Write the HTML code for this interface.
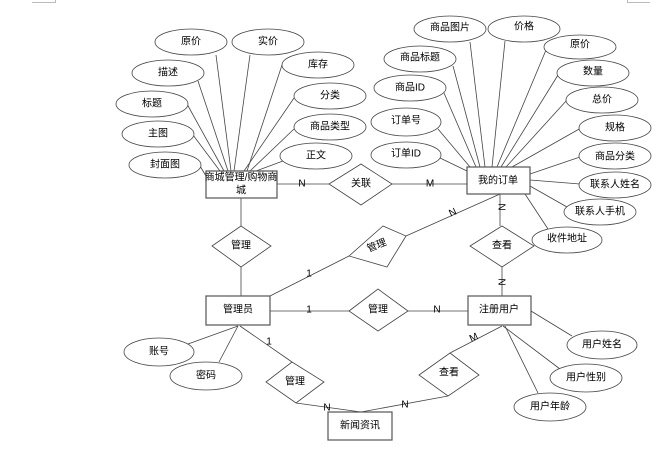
<!DOCTYPE html>
<html><head><meta charset="utf-8"><style>
html,body{margin:0;padding:0;background:#fff;}
svg{display:block;}
text{font-family:"Liberation Sans","Noto Sans CJK SC",sans-serif;font-size:10px;fill:#000;text-anchor:middle;dominant-baseline:central;}
</style></head><body>
<svg width="661" height="449" viewBox="0 0 661 449" xmlns="http://www.w3.org/2000/svg">
<g stroke="#bbb" fill="none" stroke-width="1">
<path d="M32 2.5H55.5V0"/><path d="M650 2.5H627.5V0"/>
</g>
<g stroke="#444" stroke-width="0.8" fill="none">
<!-- left attribute lines to 商城 box -->
<line x1="216" y1="55" x2="231" y2="171"/>
<line x1="250" y1="55" x2="234" y2="171"/>
<line x1="198" y1="81" x2="228" y2="171"/>
<line x1="282" y1="65" x2="247" y2="171"/>
<line x1="187" y1="104" x2="224" y2="171"/>
<line x1="294" y1="98" x2="244" y2="171"/>
<line x1="193" y1="135" x2="220" y2="171"/>
<line x1="294" y1="129" x2="250" y2="171"/>
<line x1="200" y1="166" x2="206" y2="176"/>
<line x1="283" y1="161" x2="256" y2="171"/>
<!-- right attribute lines to 我的订单 -->
<line x1="470" y1="42" x2="485" y2="167"/>
<line x1="505" y1="41" x2="492" y2="167"/>
<line x1="546" y1="50" x2="497" y2="167"/>
<line x1="453" y1="66" x2="480" y2="167"/>
<line x1="558" y1="75" x2="501" y2="167"/>
<line x1="444" y1="93" x2="476" y2="167"/>
<line x1="567" y1="100" x2="506" y2="167"/>
<line x1="438" y1="129" x2="470" y2="167"/>
<line x1="581" y1="128" x2="512" y2="167"/>
<line x1="440" y1="158" x2="467" y2="171"/>
<line x1="580" y1="157" x2="530" y2="174"/>
<line x1="580" y1="184" x2="530" y2="180"/>
<line x1="567" y1="207" x2="530" y2="186"/>
<line x1="548" y1="229" x2="525" y2="194"/>
<!-- relations -->
<line x1="277" y1="184" x2="329" y2="184"/>
<line x1="392" y1="184" x2="467" y2="184"/>
<line x1="241" y1="198" x2="241" y2="226"/>
<line x1="241" y1="267" x2="241" y2="296"/>
<line x1="500" y1="194" x2="500" y2="226"/>
<line x1="502" y1="267" x2="502" y2="296"/>
<line x1="270" y1="296" x2="349" y2="256"/>
<line x1="406" y1="236" x2="500" y2="194"/>
<line x1="270" y1="311" x2="349" y2="311"/>
<line x1="408" y1="311" x2="468" y2="311"/>
<line x1="238" y1="326" x2="188" y2="344"/>
<line x1="238" y1="326" x2="219" y2="362"/>
<line x1="240" y1="326" x2="292" y2="362"/>
<line x1="296" y1="403" x2="361" y2="412"/>
<line x1="448" y1="396" x2="361" y2="412"/>
<line x1="450" y1="353" x2="502" y2="326"/>
<line x1="531" y1="311" x2="572" y2="336"/>
<line x1="503" y1="326" x2="560" y2="369"/>
<line x1="505" y1="326" x2="538" y2="393"/>
</g>
<g stroke="#444" stroke-width="0.8" fill="#fff">
<ellipse cx="191" cy="42" rx="36" ry="13"/>
<ellipse cx="268" cy="42" rx="36" ry="13"/>
<ellipse cx="168" cy="73" rx="36" ry="13"/>
<ellipse cx="318" cy="65" rx="36" ry="13"/>
<ellipse cx="152" cy="104" rx="36" ry="13"/>
<ellipse cx="330" cy="96" rx="36" ry="13"/>
<ellipse cx="158" cy="134" rx="36" ry="13"/>
<ellipse cx="330" cy="127" rx="36" ry="13"/>
<ellipse cx="165" cy="165" rx="36" ry="13"/>
<ellipse cx="316" cy="156" rx="36" ry="13"/>
<ellipse cx="450" cy="29" rx="36" ry="13"/>
<ellipse cx="524" cy="29" rx="36" ry="13"/>
<ellipse cx="580" cy="47" rx="36" ry="12"/>
<ellipse cx="420" cy="59" rx="36" ry="13"/>
<ellipse cx="593" cy="73" rx="36" ry="13"/>
<ellipse cx="410" cy="88" rx="36" ry="13"/>
<ellipse cx="602" cy="100" rx="36" ry="13"/>
<ellipse cx="406" cy="122" rx="35" ry="14"/>
<ellipse cx="615" cy="128" rx="36" ry="13"/>
<ellipse cx="406" cy="155" rx="35" ry="13"/>
<ellipse cx="615" cy="156" rx="36" ry="13"/>
<ellipse cx="615" cy="185" rx="36" ry="13"/>
<ellipse cx="600" cy="212" rx="36" ry="13"/>
<ellipse cx="567" cy="240" rx="35" ry="13"/>
<ellipse cx="159" cy="352" rx="35" ry="14"/>
<ellipse cx="206" cy="376" rx="36" ry="14"/>
<ellipse cx="602" cy="345" rx="35" ry="14"/>
<ellipse cx="586" cy="378" rx="36" ry="14"/>
<ellipse cx="550" cy="407" rx="36" ry="14"/>
<polygon points="329,184 361,164 392,184 361,205"/>
<polygon points="212,246 241,226 271,246 241,267"/>
<polygon points="470,246 502,226 534,246 502,267"/>
<polygon points="349,256 383,226 406,236 387,267"/>
<polygon points="349,311 378,289 408,311 378,331"/>
<polygon points="266,382 292,362 324,382 296,403"/>
<polygon points="419,375 450,353 479,375 448,396"/>
</g>
<g stroke="#555" stroke-width="1.2" fill="#fff">
<rect x="206" y="171" width="71" height="27"/>
<rect x="467" y="167" width="63" height="27"/>
<rect x="206" y="296" width="64" height="29"/>
<rect x="468" y="296" width="63" height="29"/>
<rect x="328" y="412" width="64" height="28"/>
</g>
<g>
<text x="191" y="42">原价</text>
<text x="268" y="42">实价</text>
<text x="168" y="73">描述</text>
<text x="318" y="65">库存</text>
<text x="152" y="104">标题</text>
<text x="330" y="96">分类</text>
<text x="158" y="134">主图</text>
<text x="330" y="127">商品类型</text>
<text x="165" y="165">封面图</text>
<text x="316" y="156">正文</text>
<text x="450" y="28">商品图片</text>
<text x="524" y="27">价格</text>
<text x="580" y="45">原价</text>
<text x="420" y="58">商品标题</text>
<text x="593" y="72">数量</text>
<text x="410" y="88">商品ID</text>
<text x="602" y="100">总价</text>
<text x="406" y="121">订单号</text>
<text x="615" y="128">规格</text>
<text x="406" y="154">订单ID</text>
<text x="615" y="157">商品分类</text>
<text x="615" y="185">联系人姓名</text>
<text x="600" y="212">联系人手机</text>
<text x="567" y="239">收件地址</text>
<text x="241" y="178">商城管理/购物商</text>
<text x="241" y="191">城</text>
<text x="361" y="184">关联</text>
<text x="498" y="181">我的订单</text>
<text x="241" y="246">管理</text>
<text x="502" y="246">查看</text>
<text x="377" y="246" transform="rotate(-22 377 246)">管理</text>
<text x="238" y="310">管理员</text>
<text x="378" y="310">管理</text>
<text x="499" y="310">注册用户</text>
<text x="159" y="352">账号</text>
<text x="206" y="376">密码</text>
<text x="295" y="382">管理</text>
<text x="449" y="373">查看</text>
<text x="360" y="426">新闻资讯</text>
<text x="602" y="345">用户姓名</text>
<text x="586" y="378">用户性别</text>
<text x="550" y="407">用户年龄</text>
<text x="302" y="184">N</text>
<text x="430" y="184">M</text>
<text x="453" y="213" transform="rotate(-25 453 213)">N</text>
<text x="501" y="207" transform="rotate(90 501 207)">N</text>
<text x="501" y="282" transform="rotate(90 501 282)">N</text>
<text x="309" y="274">1</text>
<text x="309" y="310">1</text>
<text x="437" y="310">N</text>
<text x="269" y="342">1</text>
<text x="474" y="338" transform="rotate(-25 474 338)">M</text>
<text x="327" y="408">N</text>
<text x="405" y="405">N</text>
</g>
</svg>
</body></html>
